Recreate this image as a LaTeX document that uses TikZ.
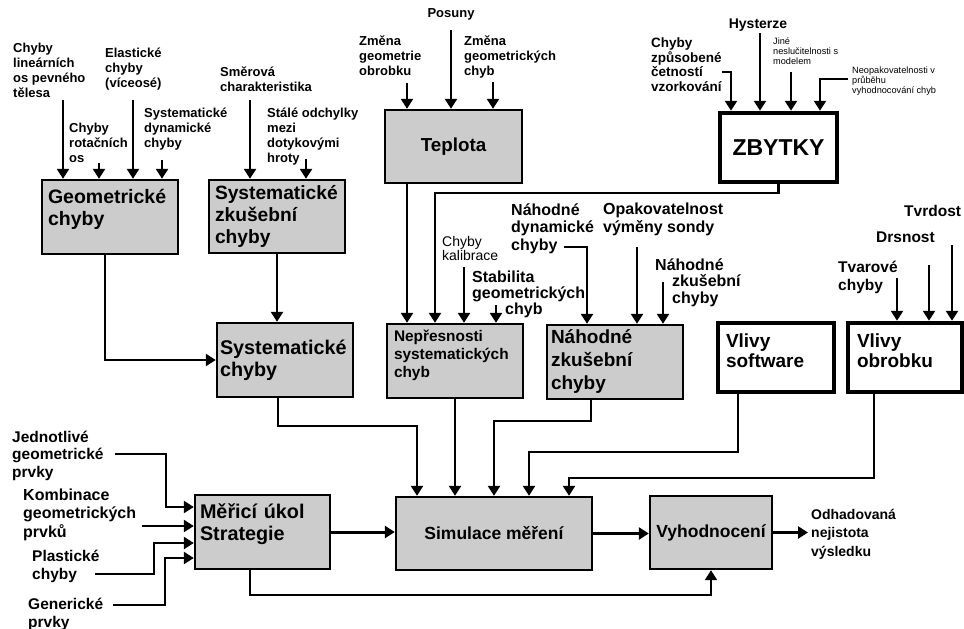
\documentclass[tikz,border=0pt]{standalone}
\usepackage{fontspec}
\setmainfont{Liberation Sans}
\usetikzlibrary{arrows.meta}

\begin{document}
\begin{tikzpicture}[
  x=1pt, y=-1pt,
  blok/.style={draw, line width=2.4pt, fill=black!20, align=left, inner xsep=6pt, inner ysep=0pt},
  blokw/.style={draw, line width=4.5pt, fill=white, align=left, inner xsep=8pt, inner ysep=0pt},
  txt/.style={inner sep=0pt, align=left, anchor=base west, font=\bfseries\fontsize{13}{15}\selectfont},
  txtm/.style={txt, font=\bfseries\fontsize{15.5}{17.5}\selectfont},
  txts/.style={txt, font=\fontsize{9.2}{10}\selectfont},
  sip/.style={-{Triangle[length=10pt,width=12pt]}, line width=2.4pt},
  sipt/.style={sip, line width=3pt}
]
  \useasboundingbox (0,0) rectangle (964,629);

  % Boxes
  \node[blok, minimum width=136pt, minimum height=74pt, text width=124pt, text depth=42pt, font=\bfseries\fontsize{19.5}{22}\selectfont] (geo) at (110,217) {Geometrické\\chyby};
  \node[blok, minimum width=136pt, minimum height=73pt, text width=124pt, font=\bfseries\fontsize{19.2}{22}\selectfont] (szk) at (277,216.5) {Systematické\\zkušební\\chyby};
  \node[blok, minimum width=137pt, minimum height=73pt, font=\bfseries\fontsize{18.8}{22}\selectfont] (tep) at (453.5,146.5) {Teplota};
  \node[blokw, minimum width=117pt, minimum height=69pt, font=\bfseries\fontsize{23}{26}\selectfont] (zby) at (778.5,147.5) {ZBYTKY};
  \node[blok, minimum width=136pt, minimum height=74pt, inner xsep=3pt, text width=130pt, font=\bfseries\fontsize{19.8}{22}\selectfont] (sys) at (285,360) {Systematické\\chyby};
  \node[blok, minimum width=136pt, minimum height=74pt, inner xsep=7pt, text width=122pt, text depth=50pt, font=\bfseries\fontsize{15.4}{18}\selectfont] (nep) at (455,361) {Nepřesnosti\\systematických\\chyb};
  \node[blok, minimum width=136pt, minimum height=74pt, inner xsep=4pt, text width=128pt, font=\bfseries\fontsize{19}{23}\selectfont] (nzk) at (615,362) {Náhodné\\zkušební\\chyby};
  \node[blokw, minimum width=116pt, minimum height=69pt, text width=100pt, text depth=33pt, font=\bfseries\fontsize{19}{20}\selectfont] (vsw) at (776,357.5) {Vlivy\\software};
  \node[blokw, minimum width=114pt, minimum height=69pt, inner xsep=9pt, text width=96pt, text depth=33pt, font=\bfseries\fontsize{19}{20}\selectfont] (vob) at (905,357.5) {Vlivy\\obrobku};
  \node[blok, minimum width=135pt, minimum height=74pt, inner xsep=5pt, text width=125pt, text depth=42pt, font=\bfseries\fontsize{19.8}{22}\selectfont] (mer) at (262.5,532) {Měřicí úkol\\Strategie};
  \node[blok, minimum width=196pt, minimum height=73pt, align=center, font=\bfseries\fontsize{17.5}{20}\selectfont] (sim) at (494,533.5) {Simulace měření};
  \node[blok, minimum width=122pt, minimum height=73pt, align=center, font=\bfseries\fontsize{17.5}{20}\selectfont] (vyh) at (711,532.5) {Vyhodnocení};

  % Input texts (placed at the baseline of their last line)
  \node[txt] (lin) at (13,97) {Chyby\\lineárních\\os pevného\\tělesa};
  \node[txt] (ela) at (105,87) {Elastické\\chyby\\(víceosé)};
  \node[txt] (rot) at (69,162) {Chyby\\rotačních\\os};
  \node[txt] (dyn) at (144,147) {Systematické\\dynamické\\chyby};
  \node[txt] (smer) at (220,91) {Směrová\\charakteristika};
  \node[txt] (stale) at (267,162) {Stálé odchylky\\mezi\\dotykovými\\hroty};
  \node[txt] (zmg) at (359,75) {Změna\\geometrie\\obrobku};
  \node[txt, anchor=base] (pos) at (451,17) {Posuny};
  \node[txt] (zmc) at (464,75) {Změna\\geometrických\\chyb};
  \node[txt, font=\bfseries\fontsize{13.5}{14.5}\selectfont] (cetn) at (651,91) {Chyby\\způsobené\\četností\\vzorkování};
  \node[txt, anchor=base, font=\bfseries\fontsize{14}{16}\selectfont] (hys) at (758,28) {Hysterze};
  \node[txts] (jine) at (773,64) {Jiné\\neslučitelnosti s\\modelem};
  \node[txts] (neop) at (852,93) {Neopakovatelnosti v\\průběhu\\vyhodnocování chyb};
  \node[txt, font=\fontsize{14}{14}\selectfont] (kal) at (442,260) {Chyby\\kalibrace};
  \node[txtm, font=\bfseries\fontsize{16}{16}\selectfont] (stab) at (472,314) {Stabilita\\geometrických\\\hspace*{33pt}chyb};
  \node[txtm, font=\bfseries\fontsize{16}{17.5}\selectfont] (ndyn) at (511,250) {Náhodné\\dynamické\\chyby};
  \node[txtm, font=\bfseries\fontsize{16}{17.5}\selectfont] (opak) at (603,232) {Opakovatelnost\\výměny sondy};
  \node[txtm, font=\bfseries\fontsize{16}{16.5}\selectfont] (nzkl) at (655,303) {Náhodné\\\hspace*{17pt}zkušební\\\hspace*{17pt}chyby};
  \node[txtm, font=\bfseries\fontsize{15.5}{18}\selectfont] (tvar) at (838,290) {Tvarové\\chyby};
  \node[txtm] (drs) at (876,242) {Drsnost};
  \node[txtm] (tvrd) at (904,216) {Tvrdost};

  % Left annotations
  \node[txtm] (jed) at (12,477) {Jednotlivé\\geometrické\\prvky};
  \node[txtm, font=\bfseries\fontsize{16}{18.5}\selectfont] (komb) at (23,537) {Kombinace\\geometrických\\prvků};
  \node[txtm] (plast) at (32,579) {Plastické\\chyby};
  \node[txtm] (gen) at (28,627) {Generické\\prvky};
  \node[txt, anchor=west, inner xsep=3pt, font=\bfseries\fontsize{14}{18.5}\selectfont] (odh) at (808,534) {Odhadovaná\\nejistota\\výsledku};

  % Free ends of the input arrows
  \coordinate (g1) at (63,100);
  \coordinate (g2) at (99,163);
  \coordinate (g3) at (133,100);
  \coordinate (g4) at (162,160);
  \coordinate (z1) at (250,100);
  \coordinate (z2) at (306,159);
  \coordinate (t1) at (407,83);
  \coordinate (t2) at (451,30);
  \coordinate (t3) at (493,82);
  \coordinate (r1) at (722,72);
  \coordinate (r2) at (760,33);
  \coordinate (r3) at (791,72);
  \coordinate (r4) at (848,79);
  \coordinate (k1) at (464,267);
  \coordinate (k2) at (496,305);
  \coordinate (n1) at (564,247);
  \coordinate (n2) at (637,247);
  \coordinate (n3) at (663,282);
  \coordinate (o1) at (897,278);
  \coordinate (o2) at (929,265);
  \coordinate (o3) at (952,245);
  \coordinate (m1) at (115,454);
  \coordinate (m2) at (142,526);
  \coordinate (m3) at (95,574);
  \coordinate (m4) at (113,605);

  % Inputs from above
  \foreach \c in {g1,g2,g3,g4} \draw[sip] (\c) -- (\c |- geo.north);
  \foreach \c in {z1,z2} \draw[sip] (\c) -- (\c |- szk.north);
  \foreach \c in {t1,t2,t3} \draw[sip] (\c) -- (\c |- tep.north);
  \foreach \c in {r2,r3} \draw[sip] (\c) -- (\c |- zby.north);
  \draw[sip] (r1) -| (731,0 |- zby.north);
  \draw[sip] (r4) -| (820,0 |- zby.north);
  \foreach \c in {k1,k2} \draw[sip] (\c) -- (\c |- nep.north);
  \draw[sip] (n1) -| (587,0 |- nzk.north);
  \foreach \c in {n2,n3} \draw[sip] (\c) -- (\c |- nzk.north);
  \foreach \c in {o1,o2,o3} \draw[sip] (\c) -- (\c |- vob.north);

  % Inputs from the left
  \draw[sip] (m1) -| (166,507) -- (mer.west |- 0,507);
  \draw[sip] (m2) -- (mer.west |- m2);
  \draw[sip] (m3) -| (154,543) -- (mer.west |- 0,543);
  \draw[sip] (m4) -| (165,558) -- (mer.west |- 0,558);

  % Between boxes
  \draw[sip] ([xshift=-5pt]geo.south) |- (sys.west);
  \draw[sip] (szk.south) -- (szk.south |- sys.north);
  \draw[sip] (407,0 |- tep.south) -- (407,0 |- nep.north);
  \draw[sip] (zby.south) |- (435,193) -- (435,0 |- nep.north);
  \draw[sip] ([xshift=-7pt]sys.south) |- (417,426) -- (417,0 |- sim.north);
  \draw[sip] (nep.south) -- (nep.south |- sim.north);
  \draw[sip] (591,0 |- nzk.south) |- (494,421) -- (494,0 |- sim.north);
  \draw[sip] (738,0 |- vsw.south) |- (529,452) -- (529,0 |- sim.north);
  \draw[sip] (874,0 |- vob.south) |- (569,478) -- (569,0 |- sim.north);
  \draw[sipt] (mer.east) -- (mer.east -| sim.west);
  \draw[sipt] (sim.east) -- (sim.east -| vyh.west);
  \draw[sipt] (vyh.east) -- (vyh.east -| odh.west);
  \draw[sip] (250,0 |- mer.south) |- (vyh.south |- 0,595) -- (vyh.south);
\end{tikzpicture}
\end{document}
